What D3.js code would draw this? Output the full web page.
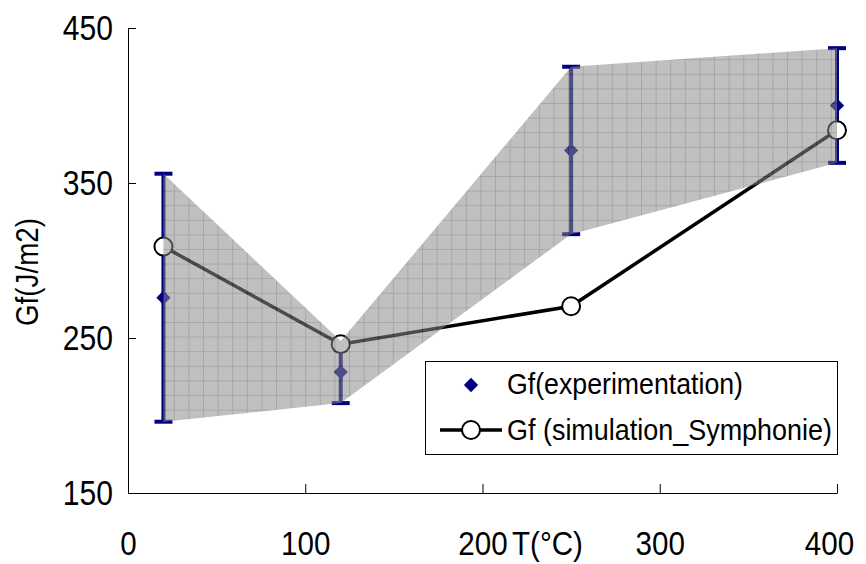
<!DOCTYPE html>
<html>
<head>
<meta charset="utf-8">
<script src="https://cdn.jsdelivr.net/npm/d3@7"></script>
<style>
  html, body { margin: 0; padding: 0; background: #fff; }
  svg { display: block; }
  text { font-family: "Liberation Sans", Arial, sans-serif; fill: #000; }
</style>
</head>
<body>
<svg id="chart" width="866" height="564"></svg>
<script>
// ---- data ----
const temps   = [20, 120, 250, 400];           // T (°C)
const gfExp   = [276, 228, 371, 400];          // Gf(experimentation)
const gfErr   = [80, 20, 54, 37];              // error half-widths
const gfSim   = [309, 246, 270.5, 384];        // Gf (simulation_Symphonie)
const xTicks  = [0, 100, 200, 300, 400];
const yTicks  = [150, 250, 350, 450];
const legendLabels = ["Gf(experimentation)", "Gf (simulation_Symphonie)"];

const svg = d3.select("#chart");
const x = d3.scaleLinear().domain([0, 400]).range([128, 837]);
const y = d3.scaleLinear().domain([150, 450]).range([493, 28]);

const navy = "#000080";

// condense text horizontally (the reference font is narrow)
function condense(sel, f) {
  sel.each(function () {
    const w = this.getComputedTextLength();
    d3.select(this).attr("textLength", w * f).attr("lengthAdjust", "spacingAndGlyphs");
  });
}

// pattern for the shaded band
const defs = svg.append("defs");
const cell = 14.6;
const pat = defs.append("pattern")
  .attr("id", "grid").attr("patternUnits", "userSpaceOnUse")
  .attr("x", 130).attr("y", 30).attr("width", cell).attr("height", cell);
pat.append("rect").attr("width", cell).attr("height", cell).attr("fill", "rgb(140,140,140)");
pat.append("path").attr("d", `M0,0.5H${cell}M0.5,0V${cell}`)
  .attr("stroke", "rgb(95,95,95)").attr("stroke-width", 1).attr("fill", "none");

// axes
const yAxis = d3.axisLeft(y).tickValues(yTicks).tickSizeInner(-8).tickSizeOuter(0).tickPadding(15);
const gy = svg.append("g").attr("transform", `translate(${x(0)},0)`).call(yAxis);
gy.selectAll("text").style("font-size", "35px").call(condense, 0.86);
gy.selectAll("line, path").attr("stroke", "#000");

const xAxis = d3.axisBottom(x).tickValues(xTicks).tickSizeInner(-9).tickSizeOuter(0).tickPadding(38);
const gx = svg.append("g").attr("transform", `translate(0,${y(150)})`).call(xAxis);
gx.selectAll("text").style("font-size", "34px").call(condense, 0.87);
gx.selectAll(".tick").filter(d => d === 400).select("text").attr("dx", -8);
gx.selectAll("line, path").attr("stroke", "#000");

svg.append("text").attr("x", 512).attr("y", 555).style("font-size", "34px")
  .text("T(°C)").call(condense, 0.87);

svg.append("text")
  .attr("transform", "translate(38,272) rotate(-90)")
  .attr("text-anchor", "middle").style("font-size", "32px")
  .attr("textLength", 108).attr("lengthAdjust", "spacingAndGlyphs")
  .text("Gf(J/m2)");

// error bars
const eg = svg.append("g");
temps.forEach((t, i) => {
  const lo = gfExp[i] - gfErr[i], hi = gfExp[i] + gfErr[i];
  eg.append("line").attr("x1", x(t)).attr("x2", x(t)).attr("y1", y(lo)).attr("y2", y(hi))
    .attr("stroke", navy).attr("stroke-width", 4);
  [lo, hi].forEach(v => eg.append("line")
    .attr("x1", x(t) - 9).attr("x2", x(t) + 9).attr("y1", y(v)).attr("y2", y(v))
    .attr("stroke", navy).attr("stroke-width", 4));
});

// diamonds
const diamond = d3.symbol().type(d3.symbolDiamond2).size(130);
svg.append("g").selectAll("path").data(temps).join("path")
  .attr("d", diamond)
  .attr("transform", (t, i) => `translate(${x(t)},${y(gfExp[i])})`)
  .attr("fill", navy);

// simulation line
const line = d3.line().x((d, i) => x(temps[i])).y(d => y(d));
svg.append("path").datum(gfSim).attr("d", line)
  .attr("fill", "none").attr("stroke", "#000").attr("stroke-width", 3.5);
svg.append("g").selectAll("circle").data(gfSim).join("circle")
  .attr("cx", (d, i) => x(temps[i])).attr("cy", d => y(d)).attr("r", 9)
  .attr("fill", "#fff").attr("stroke", "#000").attr("stroke-width", 2);

// shaded band on top (semi-transparent)
const area = d3.area()
  .x((d, i) => x(temps[i]))
  .y0((d, i) => y(gfExp[i] - gfErr[i]))
  .y1((d, i) => y(gfExp[i] + gfErr[i]));
svg.append("path").datum(gfExp).attr("d", area)
  .attr("fill", "url(#grid)").attr("opacity", 0.55);

// legend
const lg = svg.append("g");
lg.append("rect").attr("x", 425.5).attr("y", 361.5).attr("width", 412).attr("height", 93)
  .attr("fill", "#fff").attr("stroke", "#000").attr("stroke-width", 1);
lg.append("path").attr("d", diamond).attr("transform", "translate(471,385)").attr("fill", navy);
lg.append("line").attr("x1", 440).attr("x2", 502).attr("y1", 430).attr("y2", 430)
  .attr("stroke", "#000").attr("stroke-width", 3.5);
lg.append("circle").attr("cx", 471).attr("cy", 430).attr("r", 9)
  .attr("fill", "#fff").attr("stroke", "#000").attr("stroke-width", 2);
const legendWidths = [236, 325];
lg.selectAll("text").data(legendLabels).join("text")
  .attr("x", 507).attr("y", (d, i) => 384 + i * 46).attr("dy", "0.35em")
  .style("font-size", "29px")
  .attr("textLength", (d, i) => legendWidths[i]).attr("lengthAdjust", "spacingAndGlyphs")
  .text(d => d);
</script>
</body>
</html>
